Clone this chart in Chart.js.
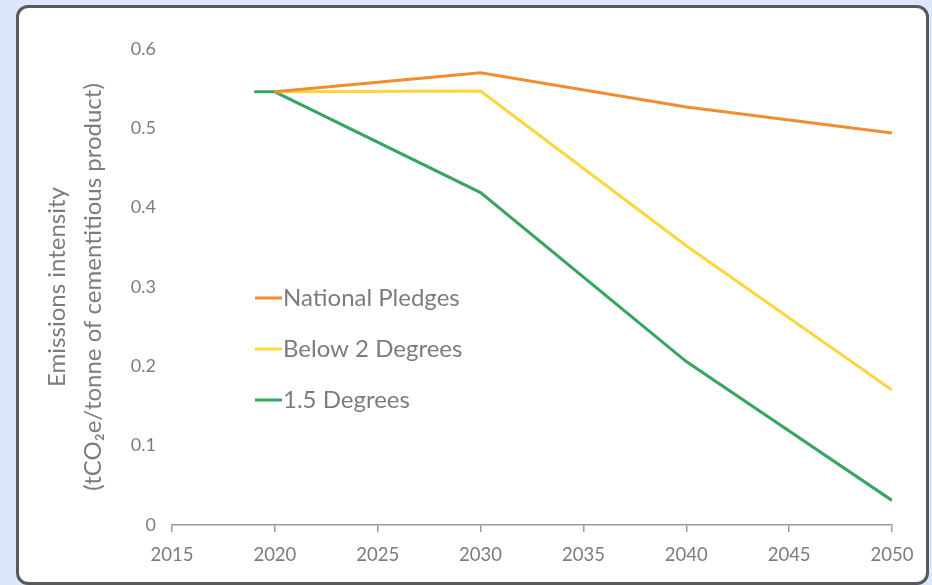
<!DOCTYPE html>
<html>
<head>
<meta charset="utf-8">
<script src="https://cdn.jsdelivr.net/npm/chart.js@4.4.0/dist/chart.umd.min.js"></script>
<style>
    html, body { margin: 0; padding: 0; }
    body { width: 932px; height: 585px; background: #dde6fb; position: relative; overflow: hidden; }
    #card {
        position: absolute; left: 16px; top: 5px; width: 907px; height: 574px;
        background: #fff; border: 3px solid #58595b; border-radius: 12px;
    }
    #chart { position: absolute; left: 0; top: 0; }
</style>
</head>
<body>
<div id="card"></div>
<canvas id="chart" width="932" height="585"></canvas>
<script>
// values
const years = [2019, 2020, 2030, 2040, 2050];
const nationalPledges = [null, 0.546, 0.570, 0.527, 0.494];
const below2Degrees = [null, 0.546, 0.547, 0.352, 0.170];
const degrees15 = [0.546, 0.546, 0.419, 0.206, 0.031];
const seriesLabels = ["National Pledges", "Below 2 Degrees", "1.5 Degrees"];
const seriesColors = ["#f08d2e", "#fbd63c", "#38a462"];
const xTicks = [2015, 2020, 2025, 2030, 2035, 2040, 2045, 2050];
const yTicks = [0, 0.1, 0.2, 0.3, 0.4, 0.5, 0.6];

const FONT = "Lato, 'Open Sans', sans-serif";
const GREY = "#7c7c7c";

function toPoints(values) {
    let pts = [];
    for (let i = 0; i < years.length; i++) {
        if (values[i] !== null) pts.push({x: years[i], y: values[i]});
    }
    return pts;
}

// legend drawn inside the plot, left side
const innerLegend = {
    id: 'innerLegend',
    afterDraw(chart) {
        const ctx = chart.ctx;
        let x = 255, y = 298;
        ctx.save();
        ctx.font = "24px " + FONT;
        ctx.textBaseline = "middle";
        for (let ds of chart.data.datasets) {
            ctx.strokeStyle = ds.borderColor;
            ctx.lineWidth = 3;
            ctx.beginPath();
            ctx.moveTo(x, y);
            ctx.lineTo(x + 27, y);
            ctx.stroke();
            ctx.fillStyle = GREY;
            ctx.fillText(ds.label, x + 28, y);
            y += 51;
        }
        ctx.restore();
    }
};

let datasets = [nationalPledges, below2Degrees, degrees15].map(function (vals, i) {
    return {
        label: seriesLabels[i],
        data: toPoints(vals),
        borderColor: seriesColors[i],
        backgroundColor: seriesColors[i],
        borderWidth: 3,
        pointRadius: 0,
        tension: 0
    };
});

new Chart(document.getElementById("chart").getContext("2d"), {
    type: 'line',
    data: { datasets: datasets },
    options: {
        responsive: false,
        animation: false,
        layout: { padding: { left: 39, top: 49, right: 40, bottom: 20 } },
        plugins: { legend: { display: false }, tooltip: { enabled: false } },
        scales: {
            x: {
                type: 'linear',
                min: 2015, max: 2050,
                afterBuildTicks: function (scale) { scale.ticks = xTicks.map(v => ({value: v})); },
                afterFit: function (scale) { scale.height = 40; },
                grid: { display: true, drawOnChartArea: false, drawTicks: true, tickLength: 7, color: "#9a9a9a", lineWidth: 1.5 },
                border: { display: true, color: "#9a9a9a", width: 1.5 },
                ticks: { color: GREY, padding: 12, font: { family: FONT, size: 18.5 }, callback: v => String(v) }
            },
            y: {
                min: 0, max: 0.6,
                afterBuildTicks: function (scale) { scale.ticks = yTicks.map(v => ({value: v})); },
                afterFit: function (scale) { scale.width = 133; },
                grid: { display: false, drawTicks: false },
                border: { display: false },
                ticks: { color: GREY, padding: 16, font: { family: FONT, size: 18 }, callback: v => String(v) },
                title: {
                    display: true,
                    text: ["Emissions intensity", "(tCO\u2082e/tonne of cementitious product)"],
                    color: GREY,
                    font: { family: FONT, size: 24, lineHeight: 1.5 },
                    padding: 0
                }
            }
        }
    },
    plugins: [innerLegend]
});
</script>
</body>
</html>
